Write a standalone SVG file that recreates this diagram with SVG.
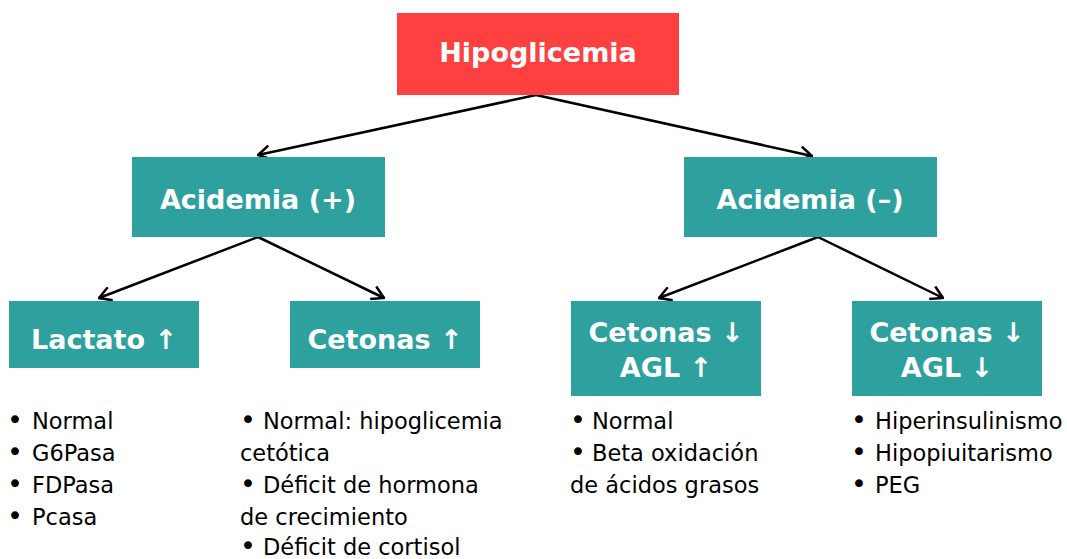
<svg xmlns="http://www.w3.org/2000/svg" width="1067" height="559" viewBox="0 0 1067 559">
<style>
.red{fill:#FF4040}
.teal{fill:#2EA19F}
.h{font-family:"DejaVu Sans",sans-serif;font-weight:bold;font-size:27px;fill:#fff;text-anchor:middle}
.t{font-family:"DejaVu Sans",sans-serif;font-size:22.5px;fill:#000}
.b{font-size:27px}
.c{fill:none;stroke:#000;stroke-width:2.5}
</style>
<defs>
<marker id="arr" viewBox="0 0 14 16" refX="13" refY="8" markerWidth="14" markerHeight="16" markerUnits="userSpaceOnUse" orient="auto">
<path d="M1,1 L13,8 L1,15" fill="none" stroke="#000" stroke-width="2.5"/>
</marker>
</defs>
<rect width="1067" height="559" fill="#fff"/>
<g id="connectors">
<line class="c" x1="536" y1="95" x2="258" y2="155" marker-end="url(#arr)"/>
<line class="c" x1="536" y1="95" x2="812" y2="156" marker-end="url(#arr)"/>
<line class="c" x1="258" y1="237" x2="99" y2="298" marker-end="url(#arr)"/>
<line class="c" x1="258" y1="237" x2="384" y2="298" marker-end="url(#arr)"/>
<line class="c" x1="818" y1="237" x2="659" y2="298" marker-end="url(#arr)"/>
<line class="c" x1="818" y1="237" x2="943" y2="298" marker-end="url(#arr)"/>
</g>
<g id="hipoglicemia">
<rect class="red" x="397" y="13" width="282" height="82"/>
<text class="h" x="538" y="62">Hipoglicemia</text>
</g>
<g id="acidemia-pos">
<rect class="teal" x="132" y="157" width="253" height="80"/>
<text class="h" x="258" y="209">Acidemia (+)</text>
</g>
<g id="acidemia-neg">
<rect class="teal" x="684" y="157" width="253" height="80"/>
<text class="h" x="810" y="209">Acidemia (–)</text>
</g>
<g id="lactato">
<rect class="teal" x="9" y="301" width="190" height="67"/>
<text class="h" x="104" y="349">Lactato ↑</text>
</g>
<g id="cetonas-up">
<rect class="teal" x="290" y="301" width="190" height="67"/>
<text class="h" x="385" y="349">Cetonas ↑</text>
</g>
<g id="cetonas-down-agl-up">
<rect class="teal" x="571" y="301" width="190" height="95"/>
<text class="h" x="666" y="342">Cetonas ↓</text>
<text class="h" x="666" y="377">AGL ↑</text>
</g>
<g id="cetonas-down-agl-down">
<rect class="teal" x="852" y="301" width="190" height="95"/>
<text class="h" x="947" y="342">Cetonas ↓</text>
<text class="h" x="947" y="377">AGL ↓</text>
</g>
<g id="list-lactato">
<text class="t" y="429"><tspan class="b" x="7">•</tspan><tspan x="32">Normal</tspan></text>
<text class="t" y="461"><tspan class="b" x="7">•</tspan><tspan x="32">G6Pasa</tspan></text>
<text class="t" y="493"><tspan class="b" x="7">•</tspan><tspan x="32">FDPasa</tspan></text>
<text class="t" y="525"><tspan class="b" x="7">•</tspan><tspan x="32">Pcasa</tspan></text>
</g>
<g id="list-cetonas-up">
<text class="t" y="429"><tspan class="b" x="240">•</tspan><tspan x="263">Normal: hipoglicemia</tspan></text>
<text class="t" x="240" y="461">cetótica</text>
<text class="t" y="493"><tspan class="b" x="240">•</tspan><tspan x="263">Déficit de hormona</tspan></text>
<text class="t" x="240" y="525">de crecimiento</text>
<text class="t" y="555"><tspan class="b" x="240">•</tspan><tspan x="263">Déficit de cortisol</tspan></text>
</g>
<g id="list-agl-up">
<text class="t" y="429"><tspan class="b" x="570">•</tspan><tspan x="592">Normal</tspan></text>
<text class="t" y="461"><tspan class="b" x="570">•</tspan><tspan x="592">Beta oxidación</tspan></text>
<text class="t" x="570" y="493">de ácidos grasos</text>
</g>
<g id="list-agl-down">
<text class="t" y="429"><tspan class="b" x="851">•</tspan><tspan x="875">Hiperinsulinismo</tspan></text>
<text class="t" y="461"><tspan class="b" x="851">•</tspan><tspan x="875">Hipopiuitarismo</tspan></text>
<text class="t" y="493"><tspan class="b" x="851">•</tspan><tspan x="875">PEG</tspan></text>
</g>
</svg>
